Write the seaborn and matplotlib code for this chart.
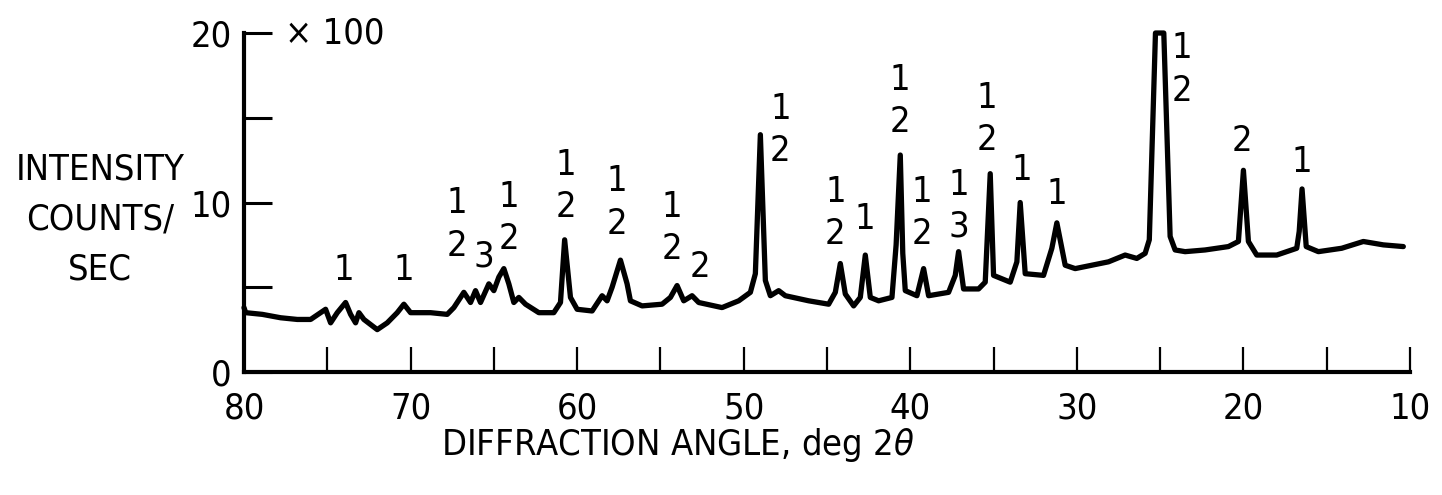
import pandas as pd
import matplotlib
matplotlib.use("Agg")
import matplotlib.pyplot as plt
from matplotlib import font_manager
import seaborn as sns

# Trace (deg 2-theta, counts/sec x 100)
angle = [80.0, 79.9, 78.9, 77.8, 76.8, 76.0, 75.4, 75.1, 74.8, 74.4, 73.9, 73.6,
         73.3, 73.1, 72.8, 72.0, 71.4, 70.8, 70.4, 70.0, 68.8, 67.8, 67.4, 66.8,
         66.4, 66.1, 65.8, 65.3, 65.0, 64.7, 64.4, 64.1, 63.8, 63.5, 63.1, 62.3,
         61.4, 61.0, 60.75, 60.4, 60.0, 59.1, 58.5, 58.2, 57.9, 57.4, 57.0, 56.8,
         56.1, 54.9, 54.4, 54.0, 53.6, 53.1, 52.7, 51.3, 50.3, 49.6, 49.3, 49.0,
         48.7, 48.4, 47.9, 47.5, 46.1, 44.9, 44.5, 44.2, 43.9, 43.4, 43.0, 42.7,
         42.4, 41.9, 41.1, 40.85, 40.6, 40.45, 40.3, 39.6, 39.2, 38.9, 37.7, 37.3,
         37.1, 36.8, 35.9, 35.5, 35.2, 35.0, 34.0, 33.6, 33.4, 33.1, 32.0, 31.5,
         31.2, 30.7, 30.1, 28.1, 27.1, 26.4, 25.9, 25.65, 25.28, 24.78, 24.4, 24.1,
         23.5, 22.3, 20.9, 20.3, 20.0, 19.7, 19.2, 18.0, 16.8, 16.65, 16.48, 16.23,
         15.5, 14.1, 12.8, 11.6, 10.4]
intensity = [3.8, 3.5, 3.4, 3.2, 3.1, 3.1, 3.5, 3.7, 2.9, 3.5, 4.1, 3.4,
             2.9, 3.5, 3.1, 2.5, 2.9, 3.5, 4.0, 3.5, 3.5, 3.4, 3.8, 4.7,
             4.1, 4.8, 4.1, 5.2, 4.8, 5.6, 6.1, 5.2, 4.1, 4.4, 4.0, 3.5,
             3.5, 4.1, 7.8, 4.4, 3.7, 3.6, 4.5, 4.2, 5.0, 6.6, 5.2, 4.2,
             3.9, 4.0, 4.4, 5.1, 4.2, 4.5, 4.1, 3.8, 4.2, 4.7, 5.8, 14.0,
             5.4, 4.5, 4.8, 4.5, 4.2, 4.0, 4.7, 6.4, 4.6, 3.9, 4.4, 6.9,
             4.4, 4.2, 4.4, 7.5, 12.8, 7.0, 4.8, 4.5, 6.1, 4.5, 4.7, 5.7,
             7.1, 4.9, 4.9, 5.3, 11.7, 5.7, 5.3, 6.5, 10.0, 5.8, 5.7, 7.3,
             8.8, 6.3, 6.1, 6.5, 6.9, 6.7, 7.0, 7.8, 20.0, 20.0, 8.0, 7.2,
             7.1, 7.2, 7.4, 7.7, 11.9, 7.7, 6.9, 6.9, 7.3, 8.3, 10.8, 7.4,
             7.1, 7.3, 7.7, 7.5, 7.4]

# Peak identification labels
label_angle = [74.0, 70.4, 67.2, 65.6, 64.1, 60.7, 57.6, 54.3, 52.6, 47.8, 44.5,
               42.7, 40.6, 39.3, 37.1, 35.4, 33.3, 31.2, 23.7, 20.1, 16.5]
label_height = [6.0, 6.0, 8.7, 6.8, 9.1, 11.0, 10.0, 8.5, 6.2, 14.3, 9.4,
                9.0, 16.0, 9.4, 9.8, 14.95, 11.9, 10.5, 17.85, 13.6, 12.4]
label_text = ["1", "1", "1\n2", "3", "1\n2", "1\n2", "1\n2", "1\n2", "2", "1\n2", "1\n2",
              "1", "1\n2", "1\n2", "1\n3", "1\n2", "1", "1", "1\n2", "2", "1"]

x_major = [80, 70, 60, 50, 40, 30, 20, 10]
x_minor = [75, 65, 55, 45, 35, 25, 15]
y_ticks = [0, 5, 10, 15, 20]
y_tick_labels = ["0", "", "10", "", "20"]

df = pd.DataFrame({"angle": angle, "intensity": intensity})

sns.set_style("white")

# pick a narrow face if one is installed
fonts = font_manager.fontManager.ttflist
names = {f.name for f in fonts}
stretch = "normal"
fs = 27
if "Liberation Sans Narrow" in names:
    family = ["Liberation Sans Narrow", "DejaVu Sans"]
elif any(f.name == "DejaVu Sans" and f.stretch == "condensed" for f in fonts):
    family = ["DejaVu Sans"]
    stretch = "condensed"
    fs = 26
else:
    family = ["DejaVu Sans"]
    fs = 24
plt.rcParams["font.family"] = family
plt.rcParams["font.stretch"] = stretch
plt.rcParams["text.color"] = "black"
plt.rcParams["xtick.color"] = "black"
plt.rcParams["ytick.color"] = "black"
plt.rcParams["axes.labelcolor"] = "black"
plt.rcParams["mathtext.fontset"] = "dejavusans"

fig = plt.figure(figsize=(14.42, 4.95), dpi=100)
ax = fig.add_axes([0.1692, 0.2485, 0.8086, 0.6848])

sns.lineplot(data=df, x="angle", y="intensity", sort=False, estimator=None,
             color="black", linewidth=3.8, ax=ax, clip_on=False)

ax.set_xlim(80, 10)
ax.set_ylim(0, 20)

for side in ["top", "right"]:
    ax.spines[side].set_visible(False)
for side in ["left", "bottom"]:
    ax.spines[side].set_linewidth(3.0)
    ax.spines[side].set_color("black")

ax.set_xticks(x_major)
ax.set_xticks(x_minor, minor=True)
ax.set_yticks(y_ticks)
ax.set_yticklabels(y_tick_labels)
ax.tick_params(axis="x", which="both", direction="in", length=18, width=1.6,
               color="black", labelsize=fs, pad=14)
ax.tick_params(axis="y", which="major", direction="in", length=20, width=2.2,
               color="black", labelsize=fs, pad=9)
ax.tick_params(axis="both", which="both", bottom=True, left=True)

ax.text(0.035, 20, "\u00d7 100", transform=ax.get_yaxis_transform(),
        ha="left", va="center", fontsize=fs)

for a, h, t in zip(label_angle, label_height, label_text):
    ax.text(a, h, t, ha="center", va="center", fontsize=fs, linespacing=1.3)

ax.set_xlabel(r"DIFFRACTION ANGLE, deg 2$\theta$", fontsize=fs, va="center")
ax.xaxis.set_label_coords(0.372, -0.215)
ax.set_ylabel("INTENSITY\nCOUNTS/\nSEC", fontsize=fs, rotation=0,
              ha="center", va="center", linespacing=1.6)
ax.yaxis.set_label_coords(-0.1235, 0.45)

fig.savefig("out.png", dpi=100)
